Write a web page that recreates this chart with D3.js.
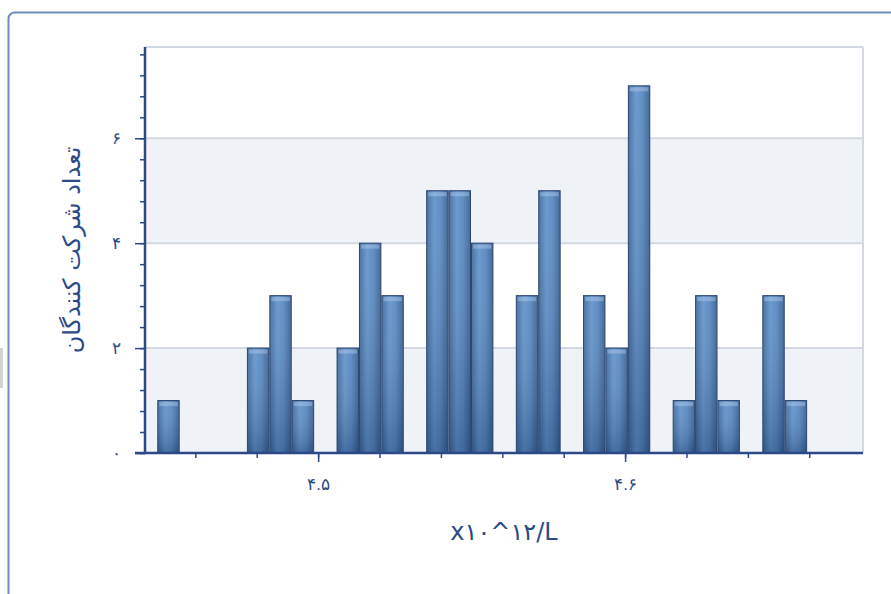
<!DOCTYPE html>
<html>
<head>
<meta charset="utf-8">
<script src="https://cdn.jsdelivr.net/npm/d3@7"></script>
<style>
  body { margin: 0; background: #fff; }
  svg { display: block; font-family: "DejaVu Sans", sans-serif; }
</style>
</head>
<body>
<svg id="chart" width="891" height="594"></svg>
<script>
// histogram counts, one per bin (bins are adjacent)
var counts = [1, 0, 0, 0, 2, 3, 1, 0, 2, 4, 3, 0, 5, 5, 4, 0, 3, 5, 0, 3, 2, 7, 0, 1, 3, 1, 0, 3, 1];
var binStart = 4.4476;
var binWidth = 0.0073;
var xDomain = [4.4436, 4.6775];
var yDomain = [0, 7.74];
var xMajorTicks = [4.5, 4.6];
var xMajorLabels = ["۴.۵", "۴.۶"];
var yMajorTicks = [0, 2, 4, 6];
var yMajorLabels = ["۰", "۲", "۴", "۶"];
var yTitle = "تعداد شرکت کنندگان";
var xTitle = "x۱۰^۱۲/L";

var axisColor = "#2c4a87";
var plotLeft = 145, plotRight = 863, plotTop = 47, plotBottom = 453;

var bins = counts.map(function(c, i) {
	return {x0: binStart + i * binWidth, x1: binStart + (i + 1) * binWidth, count: c};
});

var svg = d3.select("#chart");

var x = d3.scaleLinear().domain(xDomain).range([plotLeft, plotRight]);
var y = d3.scaleLinear().domain(yDomain).range([plotBottom, plotTop]);

// defs: bar gradients
var defs = svg.append("defs");
var grad = defs.append("linearGradient").attr("id", "barGrad")
	.attr("x1", "0").attr("x2", "1").attr("y1", "0").attr("y2", "0");
grad.append("stop").attr("offset", "0%").attr("stop-color", "#3c6699");
grad.append("stop").attr("offset", "35%").attr("stop-color", "#5f92cb");
grad.append("stop").attr("offset", "65%").attr("stop-color", "#5485c0");
grad.append("stop").attr("offset", "100%").attr("stop-color", "#365d8e");
var shade = defs.append("linearGradient").attr("id", "barShade")
	.attr("x1", "0").attr("x2", "0").attr("y1", "0").attr("y2", "1");
shade.append("stop").attr("offset", "0%").attr("stop-color", "#ffffff").attr("stop-opacity", 0.08);
shade.append("stop").attr("offset", "100%").attr("stop-color", "#10254a").attr("stop-opacity", 0.3);

// outer frame
svg.append("rect").attr("x", 0).attr("y", 348).attr("width", 3).attr("height", 40).attr("fill", "#d4d4d4");
svg.append("rect")
	.attr("x", 8.5).attr("y", 12.5).attr("width", 900).attr("height", 600)
	.attr("rx", 6)
	.attr("fill", "#fff")
	.attr("stroke", "#6d8cbd").attr("stroke-width", 2);

// alternating bands
var bands = [[0, 2], [4, 6]];
svg.selectAll(".band").data(bands).enter().append("rect")
	.attr("class", "band")
	.attr("x", plotLeft).attr("width", plotRight - plotLeft)
	.attr("y", function(d) { return y(d[1]); })
	.attr("height", function(d) { return y(d[0]) - y(d[1]); })
	.attr("fill", "#eff2f7");

// gridlines
svg.selectAll(".grid").data([2, 4, 6]).enter().append("line")
	.attr("class", "grid")
	.attr("x1", plotLeft).attr("x2", plotRight)
	.attr("y1", function(d) { return y(d); }).attr("y2", function(d) { return y(d); })
	.attr("stroke", "#d3d9e3").attr("stroke-width", 2);

// plot border top/right
svg.append("line").attr("x1", plotLeft).attr("x2", plotRight).attr("y1", plotTop).attr("y2", plotTop)
	.attr("stroke", "#d3d9e3").attr("stroke-width", 2);
svg.append("line").attr("x1", plotRight).attr("x2", plotRight).attr("y1", plotTop).attr("y2", plotBottom)
	.attr("stroke", "#d3d9e3").attr("stroke-width", 2);

// bars
var bars = svg.selectAll(".bar").data(bins.filter(function(b) { return b.count > 0; })).enter();
bars.append("rect")
	.attr("class", "bar")
	.attr("x", function(d) { return x(d.x0) + 0.5; })
	.attr("width", function(d) { return x(d.x1) - x(d.x0) - 1; })
	.attr("y", function(d) { return y(d.count); })
	.attr("height", function(d) { return y(0) - y(d.count); })
	.attr("fill", "url(#barGrad)");
bars.append("rect")
	.attr("x", function(d) { return x(d.x0) + 0.5; })
	.attr("width", function(d) { return x(d.x1) - x(d.x0) - 1; })
	.attr("y", function(d) { return y(d.count); })
	.attr("height", function(d) { return y(0) - y(d.count); })
	.attr("fill", "url(#barShade)")
	.attr("stroke", "#2d4770").attr("stroke-width", 1);
// top highlight
bars.append("rect")
	.attr("x", function(d) { return x(d.x0) + 2; })
	.attr("width", function(d) { return x(d.x1) - x(d.x0) - 4; })
	.attr("y", function(d) { return y(d.count) + 1.5; })
	.attr("height", 4)
	.attr("fill", "#b4cdec").attr("opacity", 0.45);

// y axis
var yMinor = d3.range(0, 7.7, 0.4);
svg.append("g")
	.attr("transform", "translate(" + plotLeft + ",0)")
	.call(d3.axisLeft(y).tickValues(yMinor).tickSize(5).tickFormat(""))
	.call(function(g) {
		g.select(".domain").remove();
		g.selectAll("line").attr("stroke", axisColor).attr("stroke-width", 1.5);
	});
svg.append("g")
	.attr("transform", "translate(" + plotLeft + ",0)")
	.call(d3.axisLeft(y).tickValues(yMajorTicks).tickSize(10).tickPadding(14)
		.tickFormat(function(d, i) { return yMajorLabels[i]; }))
	.call(function(g) {
		g.select(".domain").remove();
		g.selectAll("line").attr("stroke", axisColor).attr("stroke-width", 1.5);
		g.selectAll("text").attr("fill", axisColor).style("font-size", "17px");
	});
svg.append("line").attr("x1", plotLeft).attr("x2", plotLeft).attr("y1", plotTop).attr("y2", plotBottom + 1)
	.attr("stroke", axisColor).attr("stroke-width", 2.5);

// x axis
var xMinor = d3.range(4.44, 4.68, 0.02).filter(function(v) { return v >= xDomain[0]; });
svg.append("g")
	.attr("transform", "translate(0," + plotBottom + ")")
	.call(d3.axisBottom(x).tickValues(xMinor).tickSize(5).tickFormat(""))
	.call(function(g) {
		g.select(".domain").remove();
		g.selectAll("line").attr("stroke", axisColor).attr("stroke-width", 1.5);
	});
svg.append("g")
	.attr("transform", "translate(0," + plotBottom + ")")
	.call(d3.axisBottom(x).tickValues(xMajorTicks).tickSize(9).tickPadding(16)
		.tickFormat(function(d, i) { return xMajorLabels[i]; }))
	.call(function(g) {
		g.select(".domain").remove();
		g.selectAll("line").attr("stroke", axisColor).attr("stroke-width", 1.5);
		g.selectAll("text").attr("fill", axisColor).style("font-size", "17px");
	});
svg.append("line").attr("x1", plotLeft - 10).attr("x2", plotRight).attr("y1", plotBottom).attr("y2", plotBottom)
	.attr("stroke", axisColor).attr("stroke-width", 2.5);

// titles
svg.append("text")
	.attr("transform", "translate(80," + ((plotTop + plotBottom) / 2) + ") rotate(-90)")
	.attr("text-anchor", "middle")
	.attr("fill", axisColor)
	.style("font-size", "24px")
	.text(yTitle);
svg.append("text")
	.attr("x", (plotLeft + plotRight) / 2).attr("y", 540)
	.attr("text-anchor", "middle")
	.attr("direction", "ltr")
	.attr("fill", axisColor)
	.style("font-size", "24px")
	.text(xTitle);
</script>
</body>
</html>
